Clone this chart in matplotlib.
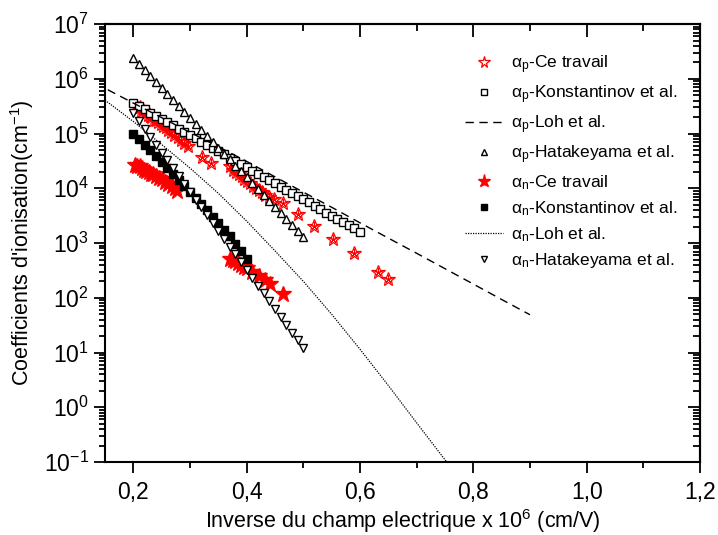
import numpy as np
import matplotlib
matplotlib.use("Agg")
import matplotlib.pyplot as plt
from matplotlib.ticker import FixedLocator, LogLocator, LogFormatterMathtext, NullFormatter

fam = 'Liberation Sans'
plt.rcParams['font.family'] = [fam, 'DejaVu Sans']
plt.rcParams['mathtext.fontset'] = 'custom'
plt.rcParams['mathtext.rm'] = fam
plt.rcParams['mathtext.it'] = fam
plt.rcParams['mathtext.bf'] = fam

# alpha_p - Ce travail (hollow red stars)
xp_ce = [0.205, 0.208, 0.211, 0.214, 0.217, 0.220, 0.223, 0.226, 0.229, 0.232,
         0.236, 0.240, 0.244, 0.248, 0.252, 0.257, 0.262, 0.267, 0.272, 0.278,
         0.284, 0.290, 0.297, 0.321, 0.337,
         0.371, 0.376, 0.381, 0.386, 0.391, 0.396, 0.401, 0.406, 0.411, 0.416,
         0.421, 0.427, 0.433, 0.440, 0.448,
         0.464, 0.490, 0.518, 0.552, 0.589, 0.631, 0.649]
yp_ce = [3.2e5, 2.9e5, 3.0e5, 2.6e5, 2.7e5, 2.4e5, 2.5e5, 2.2e5, 2.1e5, 2.0e5,
         1.8e5, 1.75e5, 1.6e5, 1.5e5, 1.35e5, 1.3e5, 1.15e5, 1.05e5, 9.5e4, 8.5e4,
         7.5e4, 6.8e4, 5.8e4, 3.8e4, 2.9e4,
         2.5e4, 2.2e4, 2.0e4, 1.85e4, 1.65e4, 1.5e4, 1.35e4, 1.25e4, 1.1e4, 1.0e4,
         9.2e3, 8.4e3, 7.6e3, 7.0e3, 6.5e3,
         5.3e3, 3.4e3, 2.07e3, 1.17e3, 6.5e2, 3.0e2, 2.2e2]

# alpha_p - Konstantinov (open squares)
xp_kon = [0.20, 0.21, 0.22, 0.23, 0.24, 0.25, 0.26, 0.27, 0.28, 0.29, 0.30,
          0.31, 0.32, 0.33, 0.34, 0.35, 0.36, 0.37, 0.38, 0.39, 0.40,
          0.41, 0.42, 0.43, 0.44, 0.45, 0.46, 0.47, 0.48, 0.49, 0.50,
          0.51, 0.52, 0.53, 0.54, 0.55, 0.56, 0.57, 0.58, 0.59, 0.60]
yp_kon = [3.63e5, 3.17e5, 2.77e5, 2.42e5, 2.11e5, 1.85e5, 1.61e5, 1.41e5, 1.23e5, 1.07e5, 9.4e4,
          8.2e4, 7.1e4, 6.2e4, 5.5e4, 4.8e4, 4.2e4, 3.6e4, 3.18e4, 2.77e4, 2.42e4,
          2.11e4, 1.85e4, 1.61e4, 1.41e4, 1.23e4, 1.07e4, 9.4e3, 8.2e3, 7.2e3, 6.3e3,
          5.5e3, 4.8e3, 4.2e3, 3.6e3, 3.18e3, 2.77e3, 2.42e3, 2.12e3, 1.85e3, 1.61e3]

# alpha_p - Loh (dashed)
xp_loh = [0.155, 0.20, 0.25, 0.30, 0.35, 0.40, 0.45, 0.50, 0.55, 0.60, 0.65, 0.70, 0.75, 0.80, 0.85, 0.90]
yp_loh = [6.3e5, 3.6e5, 1.95e5, 1.05e5, 5.75e4, 3.1e4, 1.62e4, 8.5e3, 4.5e3, 2.34e3, 1.23e3,
          6.5e2, 3.4e2, 1.78e2, 93, 49]

# alpha_p - Hatakeyama (open up triangles)
xp_hat = [0.20, 0.21, 0.22, 0.23, 0.24, 0.25, 0.26, 0.27, 0.28, 0.29, 0.30,
          0.31, 0.32, 0.33, 0.34, 0.35, 0.36, 0.37, 0.38, 0.39, 0.40,
          0.41, 0.42, 0.43, 0.44, 0.45, 0.46, 0.47, 0.48, 0.49, 0.50]
yp_hat = [2.36e6, 1.84e6, 1.43e6, 1.11e6, 8.7e5, 6.8e5, 5.3e5, 4.1e5, 3.19e5, 2.49e5, 1.94e5,
          1.51e5, 1.17e5, 9.1e4, 7.1e4, 5.5e4, 4.3e4, 3.4e4, 2.6e4, 2.04e4, 1.59e4,
          1.24e4, 9.6e3, 7.5e3, 5.8e3, 4.5e3, 3.5e3, 2.76e3, 2.15e3, 1.67e3, 1.30e3]

# alpha_n - Ce travail (filled red stars)
xn_ce = [0.203, 0.207, 0.211, 0.215, 0.219, 0.223, 0.227, 0.231, 0.235, 0.240,
         0.245, 0.250, 0.256, 0.262, 0.268, 0.273, 0.277,
         0.371, 0.376, 0.380, 0.385, 0.390, 0.395, 0.400, 0.409, 0.421, 0.433, 0.442, 0.464]
yn_ce = [2.7e4, 2.5e4, 2.6e4, 2.3e4, 2.2e4, 2.1e4, 2.0e4, 1.85e4, 1.8e4, 1.65e4,
         1.55e4, 1.45e4, 1.3e4, 1.2e4, 1.1e4, 1.0e4, 8.8e3,
         5.2e2, 5.0e2, 4.6e2, 4.3e2, 4.0e2, 3.7e2, 3.45e2, 3.0e2, 2.5e2, 2.1e2, 1.8e2, 1.16e2]

# alpha_n - Konstantinov (filled squares)
xn_kon = [0.20, 0.21, 0.22, 0.23, 0.24, 0.25, 0.26, 0.27, 0.28, 0.29, 0.30,
          0.31, 0.32, 0.33, 0.34, 0.35, 0.36, 0.37, 0.38, 0.39, 0.40]
yn_kon = [1.0e5, 7.9e4, 6.3e4, 4.9e4, 3.9e4, 3.0e4, 2.34e4, 1.82e4, 1.41e4, 1.10e4, 8.5e3,
          6.6e3, 5.1e3, 4.0e3, 3.0e3, 2.29e3, 1.74e3, 1.32e3, 9.8e2, 7.2e2, 5.2e2]

# alpha_n - Loh (dotted)
xn_loh = [0.15, 0.20, 0.25, 0.30, 0.35, 0.40, 0.45, 0.50, 0.55, 0.60, 0.65, 0.70, 0.75, 0.76]
yn_loh = [4.07e5, 1.66e5, 6.3e4, 2.34e4, 8.1e3, 2.51e3, 7.2e2, 2.0e2, 50, 11.5, 2.5, 0.52, 0.11, 0.079]

# alpha_n - Hatakeyama (open down triangles)
xn_hat = [0.20, 0.21, 0.22, 0.23, 0.24, 0.25, 0.26, 0.27, 0.28, 0.29, 0.30,
          0.31, 0.32, 0.33, 0.34, 0.35, 0.36, 0.37, 0.38, 0.39, 0.40,
          0.41, 0.42, 0.43, 0.44, 0.45, 0.46, 0.47, 0.48, 0.49, 0.50]
yn_hat = [2.34e5, 1.68e5, 1.21e5, 8.7e4, 6.3e4, 4.5e4, 3.24e4, 2.33e4, 1.67e4, 1.21e4, 8.7e3,
          6.2e3, 4.5e3, 3.23e3, 2.32e3, 1.67e3, 1.20e3, 8.6e2, 6.2e2, 4.5e2, 3.2e2,
          2.31e2, 1.66e2, 1.20e2, 86, 62, 45, 32, 23, 16.6, 11.9]

fig = plt.figure(figsize=(7.18, 5.35), dpi=100)
ax = fig.add_axes([0.1462, 0.1364, 0.8287, 0.8187])

ax.plot(xp_ce, yp_ce, ls='none', marker='*', ms=10.5, mfc='none', mec='red', mew=0.9,
        label=r'$\alpha_p$-Ce travail')
ax.plot(xp_ce, yp_ce, ls='none', marker=(5, 2, 0), ms=6, mec='red', mew=0.7)
ax.plot(xp_kon, yp_kon, ls='none', marker='s', ms=5.5, mfc='white', mec='black', mew=1,
        label=r'$\alpha_p$-Konstantinov et al.')
ax.plot(xp_loh, yp_loh, ls=(0, (6, 4)), color='black', lw=1, label=r'$\alpha_p$-Loh et al.')
ax.plot(xp_hat, yp_hat, ls='none', marker='^', ms=6, mfc='white', mec='black', mew=1,
        label=r'$\alpha_p$-Hatakeyama et al.')
ax.plot(xn_ce, yn_ce, ls='none', marker='*', ms=12, color='red', mec='red',
        label=r'$\alpha_n$-Ce travail')
ax.plot(xn_kon, yn_kon, ls='none', marker='s', ms=5.5, color='black',
        label=r'$\alpha_n$-Konstantinov et al.')
ax.plot(xn_loh, yn_loh, ls=(0, (1, 1)), color='black', lw=0.9, label=r'$\alpha_n$-Loh et al.')
ax.plot(xn_hat, yn_hat, ls='none', marker='v', ms=6, mfc='white', mec='black', mew=1,
        label=r'$\alpha_n$-Hatakeyama et al.')

ax.set_yscale('log')
ax.set_xlim(0.15, 1.2)
ax.set_ylim(1e-1, 1e7)

xt = [0.2, 0.4, 0.6, 0.8, 1.0, 1.2]
xt_labels = ['0,2', '0,4', '0,6', '0,8', '1,0', '1,2']
ax.set_xticks(xt)
ax.set_xticklabels(xt_labels)
ax.xaxis.set_minor_locator(FixedLocator([0.3, 0.5, 0.7, 0.9, 1.1]))
ax.yaxis.set_major_locator(LogLocator(base=10, numticks=20))
ax.yaxis.set_major_formatter(LogFormatterMathtext())
ax.yaxis.set_minor_locator(LogLocator(base=10, subs=np.arange(2, 10), numticks=20))
ax.yaxis.set_minor_formatter(NullFormatter())

ax.tick_params(which='both', direction='out', width=1.3, labelsize=16.5, top=False, right=False)
ax.tick_params(which='major', length=8)
ax.tick_params(which='minor', length=4.5)
ax.tick_params(axis='x', which='both', pad=6)
for spine in ax.spines.values():
    spine.set_linewidth(1.5)

# top/right ticks point inward
sec_x = ax.secondary_xaxis('top')
sec_x.set_xticks(xt)
sec_x.xaxis.set_minor_locator(FixedLocator([0.3, 0.5, 0.7, 0.9, 1.1]))
sec_x.tick_params(which='both', direction='in', width=1.3, labeltop=False)
sec_x.tick_params(which='major', length=9)
sec_x.tick_params(which='minor', length=5)
sec_y = ax.secondary_yaxis('right')
sec_y.yaxis.set_major_locator(LogLocator(base=10, numticks=20))
sec_y.yaxis.set_minor_locator(LogLocator(base=10, subs=np.arange(2, 10), numticks=20))
sec_y.tick_params(which='both', direction='in', width=1.3, labelright=False)
sec_y.tick_params(which='major', length=9)
sec_y.tick_params(which='minor', length=5)
sec_y.yaxis.set_major_formatter(NullFormatter())
sec_y.yaxis.set_minor_formatter(NullFormatter())
sec_x.spines['top'].set_linewidth(1.5)
sec_y.spines['right'].set_linewidth(1.5)

ax.set_xlabel(r'Inverse du champ electrique x 10$^6$ (cm/V)', fontsize=15.5, labelpad=2)
ax.set_ylabel(r"Coefficients d'ionisation(cm$^{-1}$)", fontsize=15.5, labelpad=6)

ax.legend(loc='upper left', bbox_to_anchor=(0.605, 0.933), frameon=False, fontsize=12.5,
          markerscale=0.8, handlelength=2.2, handletextpad=0.45, labelspacing=0.42,
          borderaxespad=0, borderpad=0)

fig.savefig('out.png', dpi=100)
